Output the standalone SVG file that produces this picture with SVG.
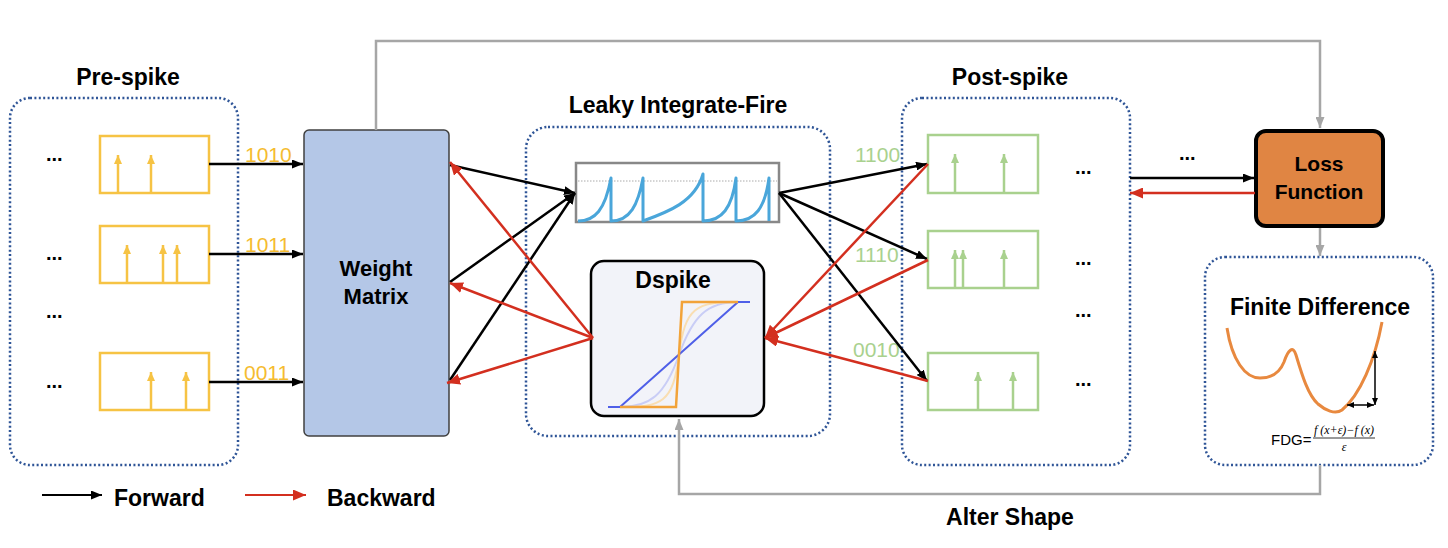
<svg xmlns="http://www.w3.org/2000/svg" width="1448" height="548" viewBox="0 0 1448 548">
<style>
.title{font-family:"Liberation Sans",Arial,sans-serif;font-weight:bold;font-size:23px;fill:#000;text-anchor:middle}
.cal{font-family:"Liberation Sans",Arial,sans-serif;font-weight:bold;font-size:21px;fill:#000;text-anchor:middle}
.dots{font-family:"Liberation Sans",Arial,sans-serif;font-weight:bold;font-size:20px;fill:#000}
.cont{fill:none;stroke:#2F5597;stroke-width:2.5;stroke-dasharray:2 2.4}
.ybox{fill:#fff;stroke:#F6C344;stroke-width:2.5}
.gbox{fill:#fff;stroke:#A9D18E;stroke-width:2.5}
.yspk{stroke:#F6C344;stroke-width:2.5;marker-end:url(#ys)}
.gspk{stroke:#A9D18E;stroke-width:2.5;marker-end:url(#gs)}
.ylab{font-family:"Liberation Sans",Arial,sans-serif;font-size:21px;fill:#F5BC30}
.glab{font-family:"Liberation Sans",Arial,sans-serif;font-size:21px;fill:#A9D18E}
.fw{stroke:#000;stroke-width:2.5;fill:none;marker-end:url(#ab)}
.bw{stroke:#D32F1F;stroke-width:2.5;fill:none;marker-end:url(#ar)}
.gr{stroke:#A6A6A6;stroke-width:2.5;fill:none}
</style>
<defs>
<marker id="ab" markerUnits="userSpaceOnUse" markerWidth="11" markerHeight="9" refX="11" refY="4.5" orient="auto"><path d="M0,0 L11,4.5 L0,9 z" fill="#000"/></marker>
<marker id="ar" markerUnits="userSpaceOnUse" markerWidth="13" markerHeight="11" refX="13" refY="5.5" orient="auto"><path d="M0,0 L13,5.5 L0,11 z" fill="#D32F1F"/></marker>
<marker id="ag" markerUnits="userSpaceOnUse" markerWidth="11" markerHeight="9" refX="11" refY="4.5" orient="auto"><path d="M0,0 L11,4.5 L0,9 z" fill="#A6A6A6"/></marker>
<marker id="ys" markerUnits="userSpaceOnUse" markerWidth="9" markerHeight="8" refX="9" refY="4" orient="auto"><path d="M0,0 L9,4 L0,8 z" fill="#F6C344"/></marker>
<marker id="gs" markerUnits="userSpaceOnUse" markerWidth="9" markerHeight="8" refX="9" refY="4" orient="auto"><path d="M0,0 L9,4 L0,8 z" fill="#A9D18E"/></marker>
<marker id="sb" markerUnits="userSpaceOnUse" markerWidth="7" markerHeight="6" refX="7" refY="3" orient="auto-start-reverse"><path d="M0,0 L7,3 L0,6 z" fill="#000"/></marker>
</defs>
<rect width="1448" height="548" fill="#fff"/>

<g id="pre-spike">
<text class="title" x="128" y="85">Pre-spike</text>
<rect class="cont" x="10" y="98" width="228" height="367" rx="20"/>
<text class="dots" x="46" y="161">...</text>
<text class="dots" x="46" y="260">...</text>
<text class="dots" x="46" y="318">...</text>
<text class="dots" x="46" y="388">...</text>
<rect class="ybox" x="100" y="136" width="109" height="57"/>
<line class="yspk" x1="118" y1="193" x2="118" y2="155"/>
<line class="yspk" x1="151" y1="193" x2="151" y2="155"/>
<rect class="ybox" x="100" y="226" width="109" height="57"/>
<line class="yspk" x1="127" y1="283" x2="127" y2="245"/>
<line class="yspk" x1="163" y1="283" x2="163" y2="245"/>
<line class="yspk" x1="177" y1="283" x2="177" y2="245"/>
<rect class="ybox" x="100" y="353" width="109" height="57"/>
<line class="yspk" x1="151" y1="410" x2="151" y2="372"/>
<line class="yspk" x1="186" y1="410" x2="186" y2="372"/>
<text class="ylab" x="245" y="162">1010</text>
<text class="ylab" x="245" y="252">1011</text>
<text class="ylab" x="244" y="380">0011</text>
</g>

<g id="weight-matrix">
<rect x="304" y="130" width="145" height="306" rx="5" fill="#B4C7E7" stroke="#404040" stroke-width="1.5"/>
<text class="cal" x="376" y="276" style="font-size:22px">Weight</text>
<text class="cal" x="376" y="304" style="font-size:22px">Matrix</text>
</g>

<g id="lif">
<text class="title" x="678" y="113">Leaky Integrate-Fire</text>
<rect class="cont" x="526" y="127" width="304" height="309" rx="22"/>
<rect x="576" y="163" width="203" height="59" fill="#fff" stroke="#888" stroke-width="2.5"/>
<line x1="578" y1="181" x2="777" y2="181" stroke="#AAA" stroke-width="1" stroke-dasharray="1.5 1.5"/>
<path d="M578,221 C595,221 605,210 611,178 L611,221 C630,221 638,205 643,178 L643,221 C668,212 695,202 703,174 L703,221 C722,221 732,208 736,178 L736,221 C755,221 765,208 769,178 L769,221" fill="none" stroke="#4AA6DA" stroke-width="3" stroke-linejoin="round"/>
</g>

<g id="dspike">
<rect x="591" y="261" width="173" height="155" rx="13" fill="#F2F3F9" stroke="#000" stroke-width="2.5"/>
<text class="title" x="673" y="288">Dspike</text>
<path d="M620,407 C650,407 665,395 679,355 C693,315 708,302 738,302" fill="none" stroke="#C9CDF6" stroke-width="2"/>
<path d="M620,407 C662,407 673,403 679,355 C685,307 696,302 738,302" fill="none" stroke="#F9DEB2" stroke-width="2"/>
<path d="M608,407 L620,407 L738,302 L750,302" fill="none" stroke="#4F5FE8" stroke-width="2"/>
<path d="M620,407 L676,407 L682,302 L738,302" fill="none" stroke="#F2A33A" stroke-width="2.5"/>
</g>

<g id="post-spike">
<text class="title" x="1010" y="85">Post-spike</text>
<rect class="cont" x="902" y="98" width="228" height="367" rx="20"/>
<rect class="gbox" x="928" y="135" width="110" height="58"/>
<line class="gspk" x1="955" y1="193" x2="955" y2="154"/>
<line class="gspk" x1="1004" y1="193" x2="1004" y2="154"/>
<rect class="gbox" x="928" y="231" width="110" height="57"/>
<line class="gspk" x1="955" y1="288" x2="955" y2="250"/>
<line class="gspk" x1="963" y1="288" x2="963" y2="250"/>
<line class="gspk" x1="1004" y1="288" x2="1004" y2="250"/>
<rect class="gbox" x="928" y="353" width="110" height="57"/>
<line class="gspk" x1="978" y1="410" x2="978" y2="372"/>
<line class="gspk" x1="1013" y1="410" x2="1013" y2="372"/>
<text class="dots" x="1075" y="174">...</text>
<text class="dots" x="1075" y="265">...</text>
<text class="dots" x="1075" y="317">...</text>
<text class="dots" x="1075" y="386">...</text>
<text class="glab" x="855" y="162">1100</text>
<text class="glab" x="855" y="262">1110</text>
<text class="glab" x="853" y="357">0010</text>
<text class="dots" x="1179" y="160">...</text>
</g>

<g id="loss-function">
<rect x="1256" y="131" width="127" height="95" rx="10" fill="#E08543" stroke="#000" stroke-width="4"/>
<text class="cal" x="1319" y="171">Loss</text>
<text class="cal" x="1319" y="199">Function</text>
</g>

<g id="finite-difference">
<rect class="cont" x="1205" y="257" width="228" height="208" rx="20"/>
<text class="title" x="1320" y="315">Finite Difference</text>
<path d="M1227,328 C1232,360 1245,378 1260,378 C1272,378 1280,372 1284,362 C1288,350 1293,345 1296,355 C1302,375 1308,395 1318,404 C1325,410 1335,415 1342,410 C1360,395 1375,360 1382,322" fill="none" stroke="#E8893F" stroke-width="3"/>
<line x1="1375" y1="405" x2="1375" y2="351" stroke="#000" stroke-width="1.5" marker-start="url(#sb)" marker-end="url(#sb)"/>
<line x1="1347" y1="405" x2="1374" y2="405" stroke="#000" stroke-width="1.5" marker-start="url(#sb)" marker-end="url(#sb)"/>
<text x="1271" y="445" font-family="Liberation Sans,Arial,sans-serif" font-size="15">FDG=</text>
<text x="1344" y="434" font-family="Liberation Serif,Times New Roman,serif" font-size="12" font-style="italic" text-anchor="middle">f (x+ε)−f (x)</text>
<line x1="1313" y1="438" x2="1375" y2="438" stroke="#000" stroke-width="0.8"/>
<text x="1344" y="451" font-family="Liberation Serif,Times New Roman,serif" font-size="12" font-style="italic" text-anchor="middle">ε</text>
</g>

<g id="legend">
<line class="fw" x1="42" y1="495" x2="102" y2="495" style="stroke-width:2"/>
<text class="title" x="114" y="506" style="text-anchor:start">Forward</text>
<line class="bw" x1="245" y1="495" x2="306" y2="495" style="stroke-width:2"/>
<text class="title" x="327" y="506" style="text-anchor:start">Backward</text>
<text class="title" x="1010" y="525">Alter Shape</text>
</g>

<g id="connectors">
<line class="fw" x1="209" y1="164" x2="303" y2="164"/>
<line class="fw" x1="209" y1="254" x2="303" y2="254"/>
<line class="fw" x1="209" y1="382" x2="303" y2="382"/>
<line class="fw" x1="450" y1="165" x2="575" y2="193"/>
<line class="fw" x1="450" y1="282" x2="575" y2="193"/>
<line class="fw" x1="450" y1="380" x2="575" y2="193"/>
<line class="bw" x1="593" y1="338" x2="450" y2="162"/>
<line class="bw" x1="593" y1="338" x2="450" y2="283"/>
<line class="bw" x1="593" y1="338" x2="447" y2="383"/>
<line class="fw" x1="779" y1="193" x2="927" y2="164"/>
<line class="fw" x1="779" y1="193" x2="927" y2="259"/>
<line class="fw" x1="779" y1="193" x2="927" y2="381"/>
<line class="bw" x1="928" y1="164" x2="765" y2="338"/>
<line class="bw" x1="928" y1="260" x2="765" y2="338"/>
<line class="bw" x1="928" y1="381" x2="765" y2="338"/>
<line class="fw" x1="1130" y1="178" x2="1254" y2="178"/>
<line class="bw" x1="1255" y1="193" x2="1130" y2="193"/>
<path class="gr" d="M376,130 L376,41 L1320,41 L1320,128" marker-end="url(#ag)"/>
<line class="gr" x1="1320" y1="228" x2="1320" y2="256" marker-end="url(#ag)"/>
<path class="gr" d="M1320,465 L1320,494 L679,494 L679,419" marker-end="url(#ag)"/>
</g>
</svg>
